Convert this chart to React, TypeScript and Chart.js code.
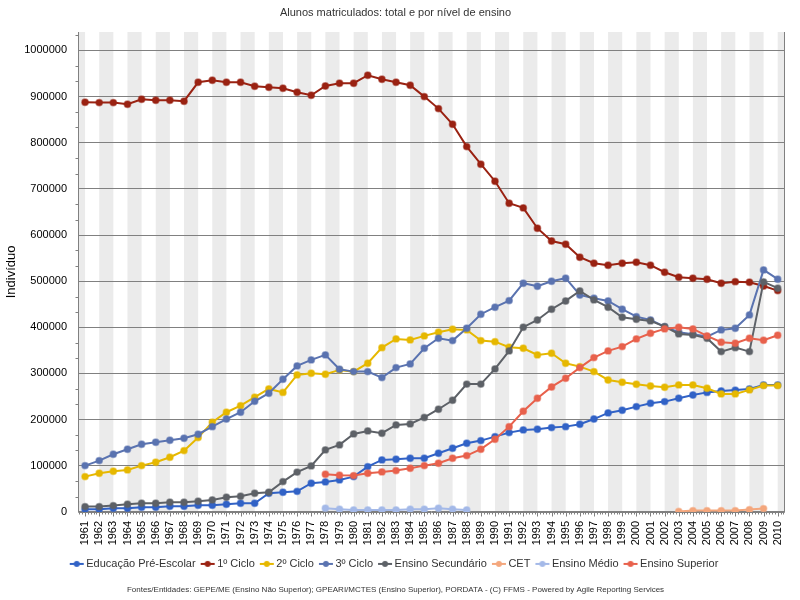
import React, { useEffect, useRef } from "react";
import { Chart, registerables } from "chart.js";

Chart.register(...registerables);

const years = [
  "1961", "1962", "1963", "1964", "1965", "1966", "1967", "1968", "1969", "1970",
  "1971", "1972", "1973", "1974", "1975", "1976", "1977", "1978", "1979", "1980",
  "1981", "1982", "1983", "1984", "1985", "1986", "1987", "1988", "1989", "1990",
  "1991", "1992", "1993", "1994", "1995", "1996", "1997", "1998", "1999", "2000",
  "2001", "2002", "2003", "2004", "2005", "2006", "2007", "2008", "2009", "2010",
];

const preEscolar = [
  5900, 5900, 8000, 8000, 10100, 10100, 12300, 12300, 14500, 14500,
  16700, 18800, 18800, 40500, 42500, 44500, 62200, 65000, 69300, 76500,
  98200, 112700, 114200, 116400, 116400, 127200, 138000, 148900, 154500, 163200,
  171800, 177700, 179200, 182700, 184800, 190000, 201200, 214500, 220200, 228200,
  235500, 239000, 246400, 253200, 259000, 262200, 264000, 266500, 275200, 275200,
];

const primeiroCiclo = [
  887800, 887000, 887000, 883400, 894300, 892100, 892000, 890000, 931000, 935500,
  931000, 931000, 922500, 920300, 918000, 909500, 903000, 923000, 929000, 929000,
  946300, 937700, 931000, 924700, 900000, 874000, 840000, 791600, 753500, 716600,
  669000, 658800, 614800, 587000, 580000, 551900, 539000, 534600, 539000, 541000,
  534600, 519400, 508600, 506400, 504300, 495600, 499000, 497700, 489700, 479600,
];

const segundoCiclo = [
  76500, 83900, 88200, 91000, 100300, 107700, 118500, 132800, 161000, 194400,
  216000, 230300, 248600, 266500, 259000, 296900, 300600, 298400, 307700, 304000,
  322200, 356000, 374900, 372700, 381400, 389400, 395900, 394400, 371200, 369000,
  356900, 354700, 340200, 343900, 322200, 314900, 304000, 286000, 281000, 276700,
  273000, 270200, 275200, 275200, 268000, 255700, 255700, 264400, 273700, 273700,
];

const terceiroCiclo = [
  100300, 111200, 125000, 135900, 146700, 151000, 155400, 159700, 168400, 184800,
  201200, 216000, 239700, 257200, 287500, 316400, 329400, 340200, 309200, 304000,
  304000, 291000, 312700, 320700, 354700, 376400, 371200, 398000, 428400, 443600,
  457900, 495600, 488900, 499800, 506400, 470200, 463000, 457200, 439200, 423200,
  416000, 401500, 389400, 385000, 379900, 394400, 398000, 426900, 524400, 504300,
];

const secundario = [
  11500, 11500, 13700, 16700, 18800, 18800, 21000, 21000, 23200, 26000,
  31800, 34000, 40500, 42700, 65700, 86300, 99700, 134400, 145200, 169000,
  175500, 170500, 188500, 190700, 204700, 222500, 242000, 277000, 277000, 309900,
  348900, 400200, 416000, 439200, 457200, 478900, 459400, 443600, 421900, 417600,
  413900, 401500, 385700, 383600, 376400, 347400, 356000, 347400, 498400, 484800,
];

const cet = [
  null, null, null, null, null, null, null, null, null, null,
  null, null, null, null, null, null, null, null, null, null,
  null, null, null, null, null, null, null, null, null, null,
  null, null, null, null, null, null, null, null, null, null,
  null, null, 1000, 2800, 2800, 2800, 2800, 5000, 7200, null,
];

const ensinoMedio = [
  null, null, null, null, null, null, null, null, null, null,
  null, null, null, null, null, null, null, 8000, 5900, 4300,
  4300, 4300, 4300, 5900, 5900, 8000, 5900, 4300, null, null,
  null, null, null, null, null, null, null, null, null, null,
  null, null, null, null, null, null, null, null, null, null,
];

const superior = [
  null, null, null, null, null, null, null, null, null, null,
  null, null, null, null, null, null, null, 81700, 79500, 78700,
  83900, 86700, 89500, 94700, 100300, 105500, 116400, 122000, 135900, 157500,
  184800, 218000, 246400, 270800, 289700, 312700, 334400, 348900, 358200, 374900,
  387200, 396600, 400200, 396600, 381400, 367700, 365600, 376400, 372100, 382900,
];

const seriesNames = [
  "Educação Pré-Escolar",
  "1º Ciclo",
  "2º Ciclo",
  "3º Ciclo",
  "Ensino Secundário",
  "CET",
  "Ensino Médio",
  "Ensino Superior",
];
const seriesData = [preEscolar, primeiroCiclo, segundoCiclo, terceiroCiclo, secundario, cet, ensinoMedio, superior];
const seriesColors = ["#3162c6", "#9a2212", "#e6b800", "#5a73b0", "#5d6167", "#f4a77d", "#a4b9e8", "#e8614c"];

const chartTitle = "Alunos matriculados: total e por nível de ensino";
const footerText =
  "Fontes/Entidades: GEPE/ME (Ensino Não Superior); GPEARI/MCTES (Ensino Superior), PORDATA - (C) FFMS - Powered by Agile Reporting Services";
const yTitle = "Indivíduo";
const yMax = 1040000;
const yTickValues = [0, 100000, 200000, 300000, 400000, 500000, 600000, 700000, 800000, 900000, 1000000];
const yMinorPerMajor = 3;

const FONT = "'Liberation Sans', Arial, sans-serif";

function markerImage(color: string) {
  const c = document.createElement("canvas");
  c.width = 16;
  c.height = 8;
  const g = c.getContext("2d")!;
  g.strokeStyle = color;
  g.lineWidth = 2;
  g.beginPath();
  g.moveTo(1, 4);
  g.lineTo(15, 4);
  g.stroke();
  g.fillStyle = color;
  g.beginPath();
  g.arc(8, 4, 3, 0, Math.PI * 2);
  g.fill();
  return c;
}

const decor = {
  id: "decor",
  beforeDraw(chart: any) {
    const { ctx, chartArea: a, scales } = chart;
    const x = scales.x;
    const n = years.length;
    const px = (i: number) => x.getPixelForValue(i);
    ctx.save();
    ctx.fillStyle = "#ebebeb";
    const h = a.bottom - a.top;
    ctx.fillRect(a.left, a.top, px(0) - a.left, h);
    for (let i = 1; i < n - 1; i += 2) ctx.fillRect(px(i), a.top, px(i + 1) - px(i), h);
    ctx.fillRect(px(n - 1), a.top, a.right - px(n - 1), h);
    ctx.restore();
  },
  beforeDatasetsDraw(chart: any) {
    const { ctx, chartArea: a, scales } = chart;
    const x = scales.x;
    const y = scales.y;
    ctx.save();
    ctx.strokeStyle = "#808080";
    ctx.lineWidth = 1;
    ctx.beginPath();
    const L = Math.round(a.left) + 0.5;
    const R = Math.round(a.right) - 0.5;
    const B = Math.round(a.bottom) + 0.5;
    ctx.moveTo(L, a.top);
    ctx.lineTo(L, B);
    ctx.lineTo(R, B);
    ctx.moveTo(R, a.top);
    ctx.lineTo(R, B);
    const major = yTickValues[1] - yTickValues[0];
    const minor = major / yMinorPerMajor;
    for (let k = 0; k * minor <= yMax; k++) {
      if (k % yMinorPerMajor === 0) continue;
      const yy = Math.round(y.getPixelForValue(k * minor)) + 0.5;
      ctx.moveTo(L - 3, yy);
      ctx.lineTo(L, yy);
    }
    const step = (x.getPixelForValue(1) - x.getPixelForValue(0)) / 5;
    const x0 = x.getPixelForValue(0);
    for (let k = -2; k <= 5 * (years.length - 1) + 2; k++) {
      const xx = Math.round(x0 + k * step) + 0.5;
      const len = k % 5 === 0 ? 4 : 2;
      ctx.moveTo(xx, B);
      ctx.lineTo(xx, B + len);
    }
    ctx.stroke();
    ctx.restore();
  },
};

export default function App() {
  const ref = useRef<HTMLCanvasElement>(null);
  useEffect(() => {
    const canvas = ref.current!;
    const datasets = seriesNames.map((name, i) => ({
      label: name,
      data: seriesData[i],
      borderColor: seriesColors[i],
      backgroundColor: seriesColors[i],
      pointBackgroundColor: seriesColors[i],
      pointBorderColor: seriesColors[i] + "88",
      pointBorderWidth: 1.5,
      pointRadius: 3.2,
      pointHoverRadius: 3.2,
      borderWidth: 2,
      tension: 0,
      spanGaps: false,
      order: seriesNames.length - i,
    }));
    const chart = new Chart(canvas, {
      type: "line",
      data: { labels: years, datasets },
      plugins: [decor],
      options: {
        responsive: false,
        animation: false,
        layout: { padding: { left: 0, right: 9, top: 0, bottom: 0 } },
        plugins: {
          tooltip: { enabled: false },
          title: {
            display: true,
            text: chartTitle,
            color: "#333333",
            font: { family: FONT, size: 11, weight: "normal" },
            padding: { top: 6, bottom: 12.8 },
          },
          subtitle: {
            display: true,
            position: "bottom",
            text: footerText,
            color: "#333333",
            font: { family: FONT, size: 8, weight: "normal" },
            padding: { top: 6, bottom: 5 },
          },
          legend: {
            display: true,
            position: "bottom",
            labels: {
              color: "#333333",
              font: { family: FONT, size: 11 },
              usePointStyle: true,
              pointStyleWidth: 8,
              padding: 8,
              generateLabels: (ch: any) => {
                const items = (Chart.defaults.plugins.legend.labels as any).generateLabels(ch);
                items.sort((p: any, q: any) => p.datasetIndex - q.datasetIndex);
                return items.map((it: any) => ({
                  ...it,
                  pointStyle: markerImage(seriesColors[it.datasetIndex]),
                }));
              },
            },
          },
        },
        scales: {
          x: {
            type: "category",
            offset: true,
            grid: { display: false, drawTicks: false },
            border: { display: false },
            ticks: {
              autoSkip: false,
              minRotation: 90,
              maxRotation: 90,
              padding: 9,
              color: "#000000",
              font: { family: FONT, size: 11 },
            },
            afterFit: (s: any) => {
              s.height = 38.5;
            },
          },
          y: {
            type: "linear",
            min: 0,
            max: yMax,
            grid: { color: "#808080", lineWidth: 1, drawTicks: false },
            border: { display: false },
            ticks: {
              padding: 11,
              color: "#000000",
              font: { family: FONT, size: 11 },
              callback: (v: any) => String(v),
            },
            afterBuildTicks: (s: any) => {
              s.ticks = yTickValues.map((v) => ({ value: v }));
            },
            afterFit: (s: any) => {
              s.width = 78;
            },
            title: {
              display: true,
              text: yTitle,
              color: "#000000",
              font: { family: FONT, size: 13 },
              padding: { top: 4, bottom: 0 },
            },
          },
        },
      },
    } as any);
    return () => chart.destroy();
  }, []);
  return (
    <canvas
      ref={ref}
      width={800}
      height={600}
      style={{ position: "absolute", left: 0, top: 0, width: 800, height: 600, background: "#ffffff" }}
    />
  );
}
